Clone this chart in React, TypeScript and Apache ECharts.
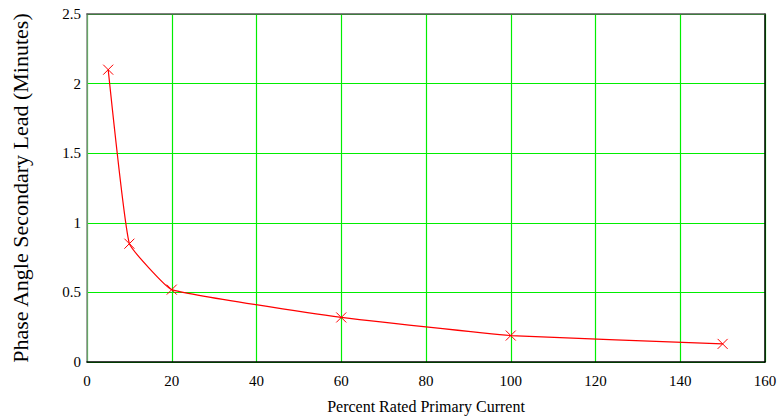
import React, { useEffect, useRef } from "react";
import * as echarts from "echarts";

const percentCurrent = [5, 10, 20, 60, 100, 150];
const phaseLead = [2.1, 0.85, 0.52, 0.32, 0.19, 0.13];
const xAxisTitle = "Percent Rated Primary Current";
const yAxisTitle = "Phase Angle Secondary Lead (Minutes)";

export default function App() {
  const ref = useRef<HTMLDivElement>(null);
  useEffect(() => {
    if (!ref.current) return;
    const chart = echarts.init(ref.current, undefined, { renderer: "svg" });
    const font = "'Liberation Serif', 'Times New Roman', serif";
    chart.setOption({
      animation: false,
      backgroundColor: "#ffffff",
      grid: {
        left: 87,
        top: 14,
        width: 678,
        height: 350,
        show: false,
      },
      xAxis: [
        {
          type: "value",
          min: 0,
          max: 160,
          interval: 20,
          name: xAxisTitle,
          nameLocation: "middle",
          nameGap: 36,
          nameTextStyle: { fontFamily: font, fontSize: 16, color: "#000" },
          axisLine: { show: true, lineStyle: { color: "#000", width: 1.5 } },
          axisTick: { show: false },
          axisLabel: { fontFamily: font, fontSize: 15, color: "#000", margin: 11 },
          splitLine: { show: true, lineStyle: { color: "#00ee00", width: 1.2 } },
          z: 3,
        },
        {
          type: "value",
          position: "top",
          min: 0,
          max: 160,
          interval: 20,
          axisLine: { show: true, onZero: false, lineStyle: { color: "#555", width: 1.5 } },
          axisTick: { show: false },
          axisLabel: { show: false },
          splitLine: { show: false },
          z: 3,
        },
      ],
      yAxis: [
        {
          type: "value",
          min: 0,
          max: 2.5,
          interval: 0.5,
          name: yAxisTitle,
          nameLocation: "middle",
          nameGap: 56,
          nameTextStyle: { fontFamily: font, fontSize: 22, color: "#000" },
          axisLine: { show: true, lineStyle: { color: "#888", width: 1.5 } },
          axisTick: { show: false },
          axisLabel: { fontFamily: font, fontSize: 15, color: "#000", margin: 6 },
          splitLine: { show: true, lineStyle: { color: "#00ee00", width: 1.2 } },
          z: 3,
        },
        {
          type: "value",
          position: "right",
          min: 0,
          max: 2.5,
          interval: 0.5,
          axisLine: { show: true, onZero: false, lineStyle: { color: "#000", width: 1.5 } },
          axisTick: { show: false },
          axisLabel: { show: false },
          splitLine: { show: false },
          z: 3,
        },
      ],
      series: [
        {
          type: "line",
          xAxisIndex: 0,
          yAxisIndex: 0,
          data: percentCurrent.map((x, i) => [x, phaseLead[i]]),
          smooth: 0.1,
          lineStyle: { color: "#ff0000", width: 1.2 },
          symbol: "path://M0,0L10,10M10,0L0,10",
          symbolSize: 10,
          itemStyle: { color: "#ff0000", borderColor: "#ff0000", borderWidth: 1 },
        },
      ],
    });
    return () => chart.dispose();
  }, []);
  return (
    <div
      ref={ref}
      style={{ position: "absolute", left: 0, top: 0, width: 781, height: 419 }}
    />
  );
}
